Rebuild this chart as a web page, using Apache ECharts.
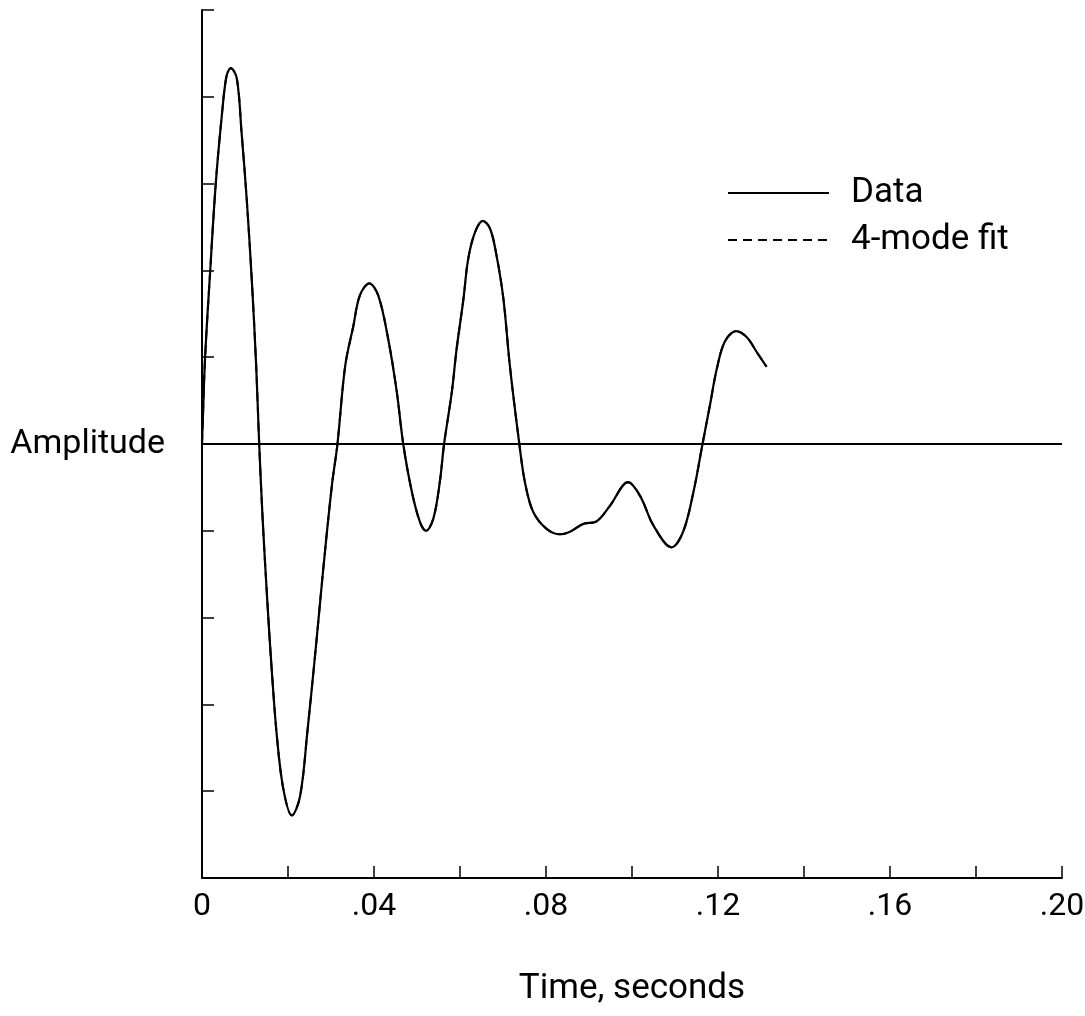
<!DOCTYPE html>
<html>
<head>
<meta charset="utf-8">
<script src="https://cdn.jsdelivr.net/npm/echarts@6/dist/echarts.min.js"></script>
<style>
html,body{margin:0;padding:0;background:#fff;}
#chart{width:1085px;height:1016px;}
</style>
</head>
<body>
<div id="chart"></div>
<script>
// Time (s) and amplitude
const timeSec = [0, 0.0002, 0.0007, 0.0019, 0.0032, 0.0046, 0.0057, 0.0067, 0.0081, 0.0092,
  0.0104, 0.0116, 0.0126, 0.0133, 0.0141, 0.0152, 0.0162, 0.0174, 0.0189, 0.0209,
  0.0228, 0.0245, 0.0265, 0.0282, 0.0302, 0.0315, 0.0333, 0.0352, 0.0367, 0.0389,
  0.0410, 0.0433, 0.0453, 0.0468, 0.0488, 0.0507, 0.0521, 0.0538, 0.0553, 0.0563,
  0.0581, 0.0592, 0.0608, 0.0619, 0.0635, 0.0653, 0.0670, 0.0685, 0.0701, 0.0716,
  0.0738, 0.0751, 0.0770, 0.0802, 0.0833, 0.0856, 0.0887, 0.0918, 0.0949, 0.0991,
  0.1019, 0.1050, 0.1092, 0.1119, 0.1143, 0.1164, 0.1181, 0.1197, 0.1216, 0.1242,
  0.1267, 0.1290, 0.1313];
const dataAmp = [0, 0.29, 0.98, 1.99, 3.00, 3.78, 4.24, 4.33, 4.21, 3.59,
  2.82, 1.87, 0.90, 0, -0.86, -1.82, -2.59, -3.36, -3.97, -4.28,
  -4.06, -3.32, -2.33, -1.44, -0.48, 0, 0.90, 1.36, 1.71, 1.85,
  1.71, 1.21, 0.60, 0, -0.55, -0.90, -1.00, -0.86, -0.44, 0,
  0.60, 1.09, 1.67, 2.13, 2.44, 2.57, 2.48, 2.17, 1.67, 0.90,
  0, -0.44, -0.78, -0.98, -1.04, -1.01, -0.92, -0.89, -0.71, -0.44,
  -0.60, -0.94, -1.19, -1.01, -0.55, 0, 0.44, 0.86, 1.18, 1.30,
  1.23, 1.06, 0.89];
// The 4-mode fit coincides with the data everywhere in the reference
const fitAmp = dataAmp.slice();
const xTickLabels = ['0', '.04', '.08', '.12', '.16', '.20'];
const seriesNames = ['Data', '4-mode fit'];

const FONT = "Roboto, 'Liberation Sans', sans-serif";
const pairs = a => timeSec.map((t, i) => [t, a[i]]);

const chart = echarts.init(document.getElementById('chart'), null, {renderer: 'canvas'});
chart.setOption({
  animation: false,
  backgroundColor: '#ffffff',
  textStyle: {fontFamily: FONT, color: '#000'},
  grid: {left: 202, right: 23, top: 10, bottom: 138, containLabel: false, outerBoundsMode: 'none'},
  legend: {
    orient: 'vertical', left: 727, top: 174, padding: 0,
    itemWidth: 101, itemHeight: 14, itemGap: 9,
    itemStyle: {opacity: 0},
    data: [seriesNames[0], seriesNames[1]],
    textStyle: {fontFamily: FONT, fontSize: 35, color: '#000', lineHeight: 38, padding: [0, 0, 0, 17]}
  },
  xAxis: {
    type: 'value', min: 0, max: 0.2, interval: 0.02,
    name: 'Time, seconds', nameLocation: 'middle', nameGap: 94,
    nameTextStyle: {fontFamily: FONT, fontSize: 35, color: '#000'},
    axisLine: {show: true, onZero: false, lineStyle: {color: '#000', width: 2}},
    axisTick: {show: true, inside: true, length: 12, lineStyle: {color: '#000', width: 1.5}},
    splitLine: {show: false},
    axisLabel: {
      fontFamily: FONT, fontSize: 32, color: '#000', margin: 13,
      formatter: v => {
        const k = Math.round(v * 100);
        return k % 4 === 0 ? xTickLabels[k / 4] : '';
      }
    }
  },
  yAxis: {
    type: 'value', min: -5, max: 5, interval: 1,
    name: 'Amplitude', nameLocation: 'middle', nameRotate: 0, nameGap: 37,
    nameTextStyle: {fontFamily: FONT, fontSize: 34, color: '#000', align: 'right'},
    axisLine: {show: true, onZero: false, lineStyle: {color: '#000', width: 2}},
    axisTick: {show: true, inside: true, length: 12, lineStyle: {color: '#000', width: 1.5}},
    axisLabel: {show: false},
    splitLine: {show: false}
  },
  series: [
    {
      name: seriesNames[1], type: 'line', data: pairs(fitAmp),
      symbol: 'none', smooth: 0.35, z: 2,
      lineStyle: {color: '#000', width: 2, type: [9, 6]},
      itemStyle: {color: '#000'}
    },
    {
      name: seriesNames[0], type: 'line', data: pairs(dataAmp),
      symbol: 'none', smooth: 0.35, z: 3,
      lineStyle: {color: '#000', width: 2.2, type: 'solid'},
      itemStyle: {color: '#000'},
      markLine: {
        silent: true, symbol: 'none', label: {show: false},
        lineStyle: {color: '#000', width: 2, type: 'solid'},
        data: [{yAxis: 0}]
      }
    }
  ]
});
</script>
</body>
</html>
